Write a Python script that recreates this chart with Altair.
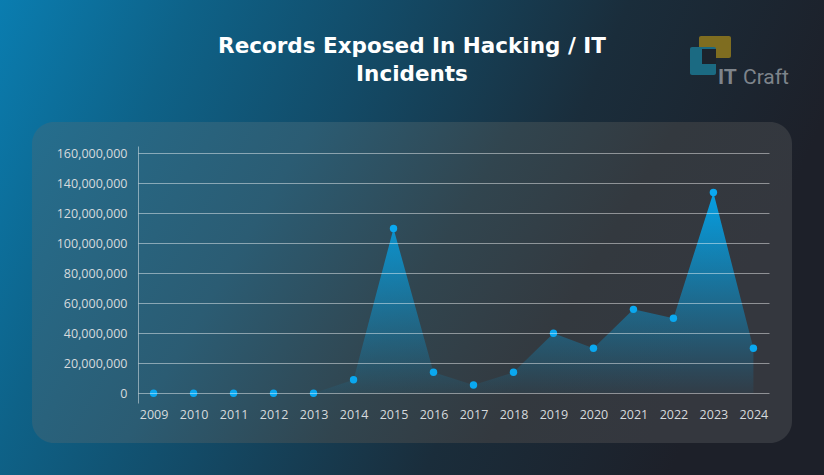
import altair as alt
import pandas as pd

years = [str(y) for y in range(2009, 2025)]
records = [0, 0, 0, 0, 0, 9_000_000, 110_000_000, 14_000_000, 5_500_000,
           14_000_000, 40_000_000, 30_000_000, 56_000_000, 50_000_000,
           134_000_000, 30_000_000]
y_ticks = [0, 20_000_000, 40_000_000, 60_000_000, 80_000_000,
           100_000_000, 120_000_000, 140_000_000, 160_000_000]
title_lines = ["Records Exposed In Hacking / IT", "Incidents"]

df = pd.DataFrame({"year": years, "records": records})

W, H = 631, 257
PL, PT, PR, PB = 138, 146, 55, 72

one = alt.Data(values=[{"k": 1}])

bg = alt.Chart(one).mark_rect(
    fill=alt.LinearGradient(
        gradient="linear", x1=0, y1=0, x2=1, y2=0.25,
        stops=[
            alt.GradientStop(color="#0a7db0", offset=0),
            alt.GradientStop(color="#0e6288", offset=0.22),
            alt.GradientStop(color="#134a66", offset=0.45),
            alt.GradientStop(color="#1a2d3b", offset=0.72),
            alt.GradientStop(color="#1d2029", offset=1),
        ],
    )
).encode(x=alt.value(-PL), x2=alt.value(824 - PL),
         y=alt.value(-PT), y2=alt.value(475 - PT))

panel = alt.Chart(one).mark_rect(
    cornerRadius=22,
    fill=alt.LinearGradient(
        gradient="linear", x1=0, y1=0, x2=1, y2=0.25,
        stops=[
            alt.GradientStop(color="#256e8e", offset=0),
            alt.GradientStop(color="#2b5c73", offset=0.35),
            alt.GradientStop(color="#31454f", offset=0.6),
            alt.GradientStop(color="#33393f", offset=0.8),
            alt.GradientStop(color="#34373e", offset=1),
        ],
    )
).encode(x=alt.value(32 - PL), x2=alt.value(792 - PL),
         y=alt.value(122 - PT), y2=alt.value(443 - PT))

title1 = alt.Chart(one).mark_text(
    text=title_lines[0], font="DejaVu Sans", fontWeight="bold", fontSize=21.5,
    color="white", align="center", baseline="middle"
).encode(x=alt.value(412 - PL), y=alt.value(47 - PT))
title2 = alt.Chart(one).mark_text(
    text=title_lines[1], font="DejaVu Sans", fontWeight="bold", fontSize=21.5,
    color="white", align="center", baseline="middle"
).encode(x=alt.value(412 - PL), y=alt.value(75 - PT))

logo_gold = alt.Chart(one).mark_rect(fill="#7f6d20", cornerRadius=2).encode(
    x=alt.value(699 - PL), x2=alt.value(731 - PL),
    y=alt.value(36 - PT), y2=alt.value(58 - PT))
logo_teal = alt.Chart(one).mark_rect(fill="#1b6a82", cornerRadius=2).encode(
    x=alt.value(690 - PL), x2=alt.value(716 - PL),
    y=alt.value(47 - PT), y2=alt.value(75 - PT))
logo_hole = alt.Chart(one).mark_rect(fill="#1c232c").encode(
    x=alt.value(702 - PL), x2=alt.value(716 - PL),
    y=alt.value(49 - PT), y2=alt.value(64 - PT))
logo_it = alt.Chart(one).mark_text(
    text="IT", font="Roboto", fontWeight="bold", fontSize=21,
    color="#7e848b", align="left", baseline="alphabetic"
).encode(x=alt.value(718 - PL), y=alt.value(84 - PT))
logo_craft = alt.Chart(one).mark_text(
    text="Craft", font="Roboto", fontSize=21,
    color="#7e848b", align="left", baseline="alphabetic"
).encode(x=alt.value(743 - PL), y=alt.value(84 - PT))

x_enc = alt.X("year:O", scale=alt.Scale(type="point", padding=0.39),
              axis=alt.Axis(title=None, labelAngle=0, ticks=False, domain=False,
                            grid=False, labelPadding=5, labelFont="Open Sans",
                            labelFontSize=12.5, labelColor="#d6dadd", zindex=1))
y_enc = alt.Y("records:Q",
              scale=alt.Scale(domain=[-6_500_000, 165_000_000], nice=False, zero=False),
              axis=alt.Axis(title=None, values=y_ticks, format=",d", ticks=False,
                            labelPadding=11, labelFont="Open Sans", labelFontSize=12.5,
                            labelColor="#d6dadd", grid=True,
                            gridColor="rgba(255,255,255,0.45)", gridWidth=1,
                            domain=True, domainColor="rgba(255,255,255,0.45)",
                            zindex=1))

area = alt.Chart(df).mark_area(
    fill=alt.LinearGradient(
        gradient="linear", x1=0, y1=0, x2=0, y2=1,
        stops=[
            alt.GradientStop(color="rgba(3,165,235,0.95)", offset=0),
            alt.GradientStop(color="rgba(3,165,235,0.05)", offset=1),
        ],
    )
).encode(x=x_enc, y=y_enc)

points = alt.Chart(df).mark_point(filled=True, size=55, color="#0aa8f0", opacity=1).encode(
    x=x_enc, y=y_enc)

chart = alt.layer(
    bg, panel, title1, title2, logo_gold, logo_teal, logo_hole, logo_it, logo_craft,
    area, points
).properties(
    width=W, height=H,
    autosize=alt.AutoSizeParams(type="none"),
    padding={"left": PL, "top": PT, "right": PR, "bottom": PB},
    background="#1d2029",
).configure_view(stroke=None, fill=None)

chart.save("out.html", embed_options={"renderer": "svg", "actions": False})
